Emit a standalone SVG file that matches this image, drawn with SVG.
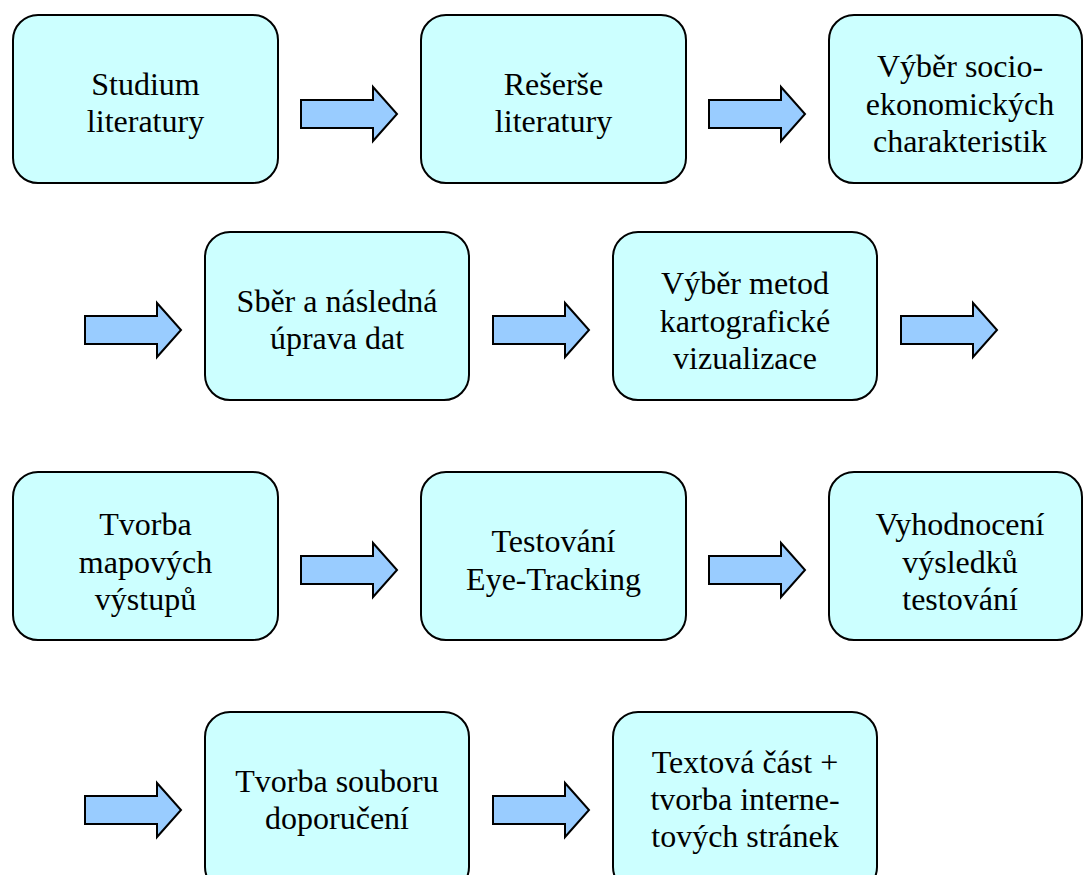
<svg xmlns="http://www.w3.org/2000/svg" xmlns:xlink="http://www.w3.org/1999/xlink" width="1085" height="875" viewBox="0 0 1085 875">
<defs>
<style>
.box{fill:#CCFFFF;stroke:#000;stroke-width:2}
.arr{fill:#99CCFF;stroke:#000;stroke-width:2;stroke-linejoin:miter}
text{font-family:"Liberation Serif","Times New Roman",serif;font-size:32px;fill:#000;text-anchor:middle}
</style>
<path id="arrow" class="arr" d="M0,13 L72,13 L72,0 L96,27 L72,54 L72,41 L0,41 Z"/>
</defs>
<rect width="1085" height="875" fill="#fff"/>
<g id="connectors">
<use xlink:href="#arrow" x="301" y="87"/>
<use xlink:href="#arrow" x="709" y="87"/>
<use xlink:href="#arrow" x="85" y="303"/>
<use xlink:href="#arrow" x="493" y="303"/>
<use xlink:href="#arrow" x="901" y="303"/>
<use xlink:href="#arrow" x="301" y="543"/>
<use xlink:href="#arrow" x="709" y="543"/>
<use xlink:href="#arrow" x="85" y="783"/>
<use xlink:href="#arrow" x="493" y="783"/>
</g>
<g id="n1"><rect class="box" x="13" y="15" width="265" height="168" rx="25"/><text x="145.5" y="95">Studium</text><text x="145.5" y="132">literatury</text></g>
<g id="n2"><rect class="box" x="421" y="15" width="265" height="168" rx="25"/><text x="553.5" y="95">Rešerše</text><text x="553.5" y="132">literatury</text></g>
<g id="n3"><rect class="box" x="829" y="15" width="253" height="168" rx="25"/><text x="960" y="77">Výběr socio-</text><text x="960" y="115">ekonomických</text><text x="960" y="152">charakteristik</text></g>
<g id="n4"><rect class="box" x="205" y="232" width="264" height="168" rx="25"/><text x="337" y="312">Sběr a následná</text><text x="337" y="349">úprava dat</text></g>
<g id="n5"><rect class="box" x="613" y="232" width="264" height="168" rx="25"/><text x="745" y="294">Výběr metod</text><text x="745" y="332">kartografické</text><text x="745" y="369">vizualizace</text></g>
<g id="n6"><rect class="box" x="13" y="472" width="265" height="168" rx="25"/><text x="145.5" y="535">Tvorba</text><text x="145.5" y="573">mapových</text><text x="145.5" y="610">výstupů</text></g>
<g id="n7"><rect class="box" x="421" y="472" width="265" height="168" rx="25"/><text x="553.5" y="552">Testování</text><text x="553.5" y="590">Eye-Tracking</text></g>
<g id="n8"><rect class="box" x="829" y="472" width="253" height="168" rx="25"/><text x="960" y="535">Vyhodnocení</text><text x="960" y="573">výsledků</text><text x="960" y="610">testování</text></g>
<g id="n9"><rect class="box" x="205" y="712" width="264" height="180" rx="25"/><text x="337" y="792">Tvorba souboru</text><text x="337" y="829">doporučení</text></g>
<g id="n10"><rect class="box" x="613" y="712" width="264" height="180" rx="25"/><text x="745" y="773">Textová část +</text><text x="745" y="810">tvorba interne-</text><text x="745" y="847">tových stránek</text></g>
</svg>
